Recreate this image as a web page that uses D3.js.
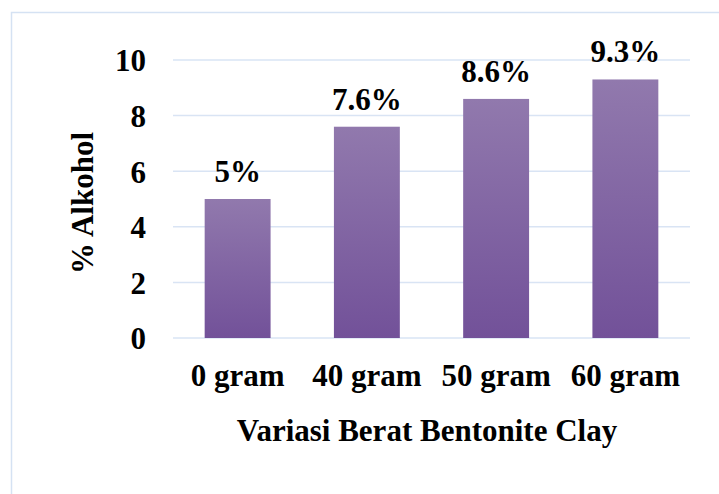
<!DOCTYPE html>
<html>
<head>
<meta charset="utf-8">
<script src="https://cdn.jsdelivr.net/npm/d3@7"></script>
<style>
  html, body { margin: 0; padding: 0; background: #fff; }
  svg { display: block; }
</style>
</head>
<body>
<svg id="chart" width="719" height="494"></svg>
<script>
// Alcohol content by bentonite clay dosage
const categories = ["0 gram", "40 gram", "50 gram", "60 gram"];
const values = [5, 7.6, 8.6, 9.3];
const valueLabels = ["5%", "7.6%", "8.6%", "9.3%"];
const yTicks = [0, 2, 4, 6, 8, 10];
const xTitle = "Variasi Berat Bentonite Clay";
const yTitle = "% Alkohol";

const FONT = "Liberation Serif";
const FS = 31;

const svg = d3.select("#chart");
const W = 719, H = 494;
const plot = { left: 173, right: 690, top: 60, bottom: 338 };

function styleText(sel) {
  return sel.style("font-family", FONT)
    .style("font-weight", "bold")
    .style("font-size", FS + "px")
    .style("fill", "#000");
}

// chart frame
svg.append("rect")
  .attr("x", 11.5).attr("y", 12.5)
  .attr("width", W + 20).attr("height", H + 20)
  .attr("fill", "#fff")
  .attr("stroke", "#d5e2f3").attr("stroke-width", 1.5);

const defs = svg.append("defs");
const grad = defs.append("linearGradient")
  .attr("id", "barFill").attr("x1", 0).attr("y1", 0).attr("x2", 0).attr("y2", 1);
grad.append("stop").attr("offset", "0%").attr("stop-color", "#9179ad");
grad.append("stop").attr("offset", "100%").attr("stop-color", "#725199");

const x = d3.scaleBand()
  .domain(categories)
  .range([plot.left, plot.right])
  .paddingInner(0.49)
  .paddingOuter(0.245);

const y = d3.scaleLinear()
  .domain([0, 10])
  .range([plot.bottom, plot.top]);

// gridlines
svg.append("g")
  .selectAll("line")
  .data(yTicks)
  .join("line")
  .attr("x1", plot.left).attr("x2", plot.right)
  .attr("y1", d => y(d)).attr("y2", d => y(d))
  .attr("stroke", "#d9e4f4").attr("stroke-width", 1.5);

// y axis tick labels
const yAxis = d3.axisLeft(y).tickValues(yTicks).tickSize(0).tickPadding(27).tickFormat(d3.format("d"));
const yg = svg.append("g").attr("transform", `translate(${plot.left},0)`).call(yAxis);
yg.select(".domain").remove();
styleText(yg.selectAll("text")).attr("dy", "0.35em");

// bars
const data = categories.map((c, i) => ({ c, v: values[i], label: valueLabels[i] }));
svg.append("g")
  .selectAll("rect")
  .data(data)
  .join("rect")
  .attr("x", d => x(d.c))
  .attr("y", d => y(d.v))
  .attr("width", x.bandwidth())
  .attr("height", d => y(0) - y(d.v))
  .attr("fill", "url(#barFill)");

// value labels
styleText(svg.append("g")
  .selectAll("text")
  .data(data)
  .join("text")
  .attr("x", d => x(d.c) + x.bandwidth() / 2)
  .attr("y", d => y(d.v) - 17)
  .attr("text-anchor", "middle")
  .text(d => d.label));

// category labels
const xAxis = d3.axisBottom(x).tickSize(0).tickPadding(0);
const xg = svg.append("g").attr("transform", `translate(0,${plot.bottom})`).call(xAxis);
xg.select(".domain").remove();
styleText(xg.selectAll("text")).attr("dy", 0).attr("y", 48);

// axis titles
styleText(svg.append("text")
  .attr("x", 427).attr("y", 441)
  .attr("text-anchor", "middle")
  .text(xTitle));

styleText(svg.append("text")
  .attr("transform", `translate(93,${(plot.top + plot.bottom) / 2 + 4}) rotate(-90)`)
  .attr("text-anchor", "middle")
  .text(yTitle));
</script>
</body>
</html>
